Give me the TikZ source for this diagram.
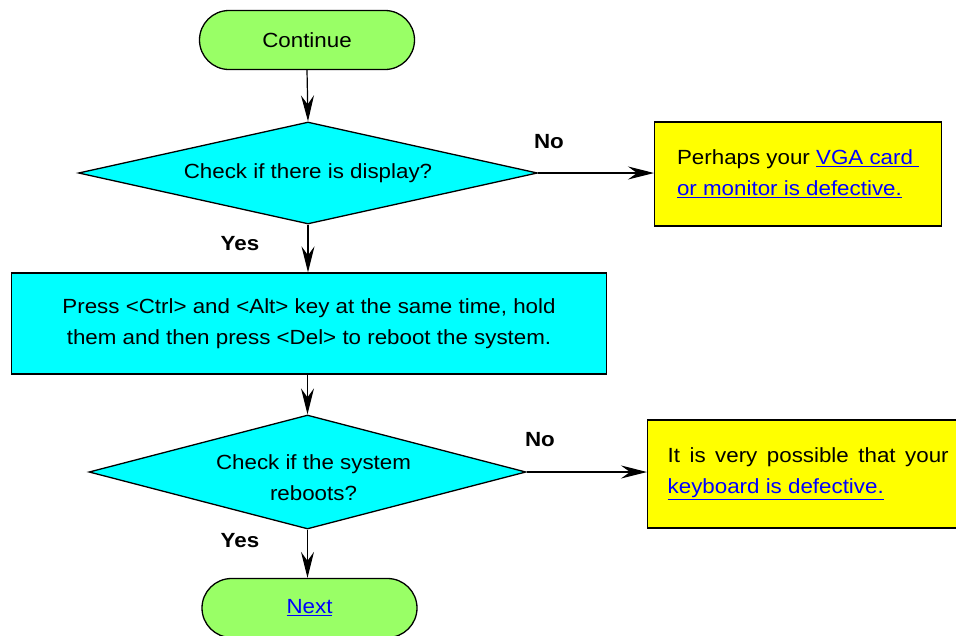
\documentclass[tikz,border=0pt]{standalone}
\usepackage{fontspec}
\setmainfont[FakeStretch=1.09]{Liberation Sans}
\usetikzlibrary{shapes.geometric,arrows.meta}
\definecolor{termgreen}{RGB}{153,255,102}
\definecolor{boxcyan}{RGB}{0,255,255}
\definecolor{boxyellow}{RGB}{255,255,0}
\definecolor{linkblue}{RGB}{0,0,255}
\newcommand{\lnk}[1]{\textcolor{linkblue}{\underline{#1}}}
\tikzset{
  every node/.style={font=\fontsize{20.5}{31}\selectfont},
  terminal/.style={draw=black, line width=1.3pt, fill=termgreen, rectangle, rounded corners=29.5pt, minimum width=215pt, minimum height=59pt, inner sep=0pt},
  decision/.style={draw=black, line width=1.3pt, fill=boxcyan, diamond, inner sep=0pt, align=center},
  process/.style={draw=black, line width=1.3pt, fill=boxcyan, rectangle, inner sep=0pt, align=center},
  note/.style={draw=black, line width=1.3pt, fill=boxyellow, rectangle, inner ysep=0pt, anchor=west},
  flow/.style={draw=black, line width=1.2pt, -{Stealth[length=26pt,width=13pt,inset=9pt]}},
  lbl/.style={font=\fontsize{20.5}{24}\selectfont\bfseries},
}
\begin{document}
\begin{tikzpicture}[x=1pt,y=-1pt]
\clip (0,0) rectangle (956,635);
\fill[white] (0,0) rectangle (956,635);
\node[terminal] (start) at (307,40) {Continue};
\node[decision, minimum width=459pt, minimum height=102pt, aspect=4.5] (d1) at (308,173) {Check if there is display?};
\node[note, inner xsep=0pt, minimum width=287pt, minimum height=104pt, align=left] (n1) at (654,174) {Perhaps your \lnk{VGA card\ }\\\lnk{or monitor is defective.}};
\node[process, minimum width=595pt, minimum height=101pt] (p1) at (309,323.5) {Press <Ctrl> and <Alt> key at the same time, hold\\them and then press <Del> to reboot the system.};
\node[decision, minimum width=437pt, minimum height=114pt, aspect=3.83,
  label={[align=center, xshift=6pt, yshift=-6pt]center:{Check if the system\\reboots?}}] (d2) at (307.5,472) {};
\node[note, text width=281pt, inner xsep=20pt, minimum height=108pt, align=justify] (n2) at (647,474) {It is very possible that your \lnk{keyboard is defective.}};
\node[terminal] (end) at (309.5,608) {\lnk{Next}};
\draw[flow] (start.south) -- (d1.north);
\draw[flow] (d1.east) -- (d1.east -| n1.west);
\draw[flow] (d1.south) -- (d1.south |- p1.north);
\draw[flow] (p1.south -| d2.north) -- (d2.north);
\draw[flow] (d2.east) -- (d2.east -| n2.west);
\draw[flow] (d2.south) -- (d2.south |- end.north);
\node[lbl] (no1) at (549,142) {No};
\node[lbl] (yes1) at (240,244) {Yes};
\node[lbl] (no2) at (540,440) {No};
\node[lbl] (yes2) at (240,541) {Yes};
\end{tikzpicture}
\end{document}
